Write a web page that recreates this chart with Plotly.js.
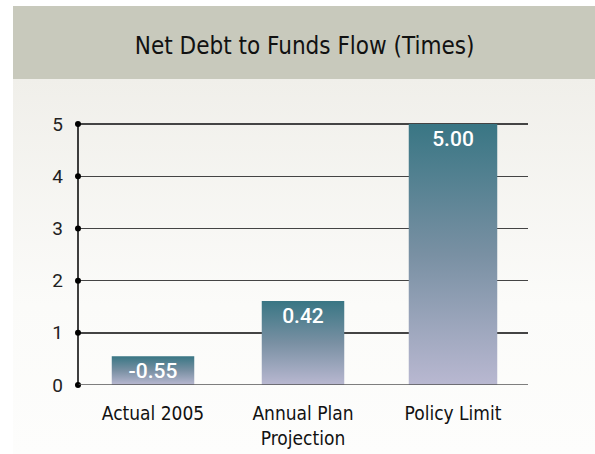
<!DOCTYPE html>
<html>
<head>
<meta charset="utf-8">
<script src="https://cdn.plot.ly/plotly-3.0.1.min.js"></script>
<style>
  html, body { margin: 0; padding: 0; background: #ffffff; }
  #chart {
    width: 595px; height: 454px;
    background:
      linear-gradient(to bottom, #c8c9bc, #c8c9bc) no-repeat 13px 6px / 582px 73px,
      linear-gradient(to bottom, #f0efea, #fbfbf9 60%, #fdfdfc) no-repeat 13px 79px / 582px 375px,
      #ffffff;
  }
</style>
</head>
<body>
<div id="chart"></div>
<script>
// ---- data ----
const categories = ['Actual 2005', 'Annual Plan<br>Projection', 'Policy Limit'];
const barHeights = [0.55, 1.61, 5.00];
const barLabels = ['-0.55', '0.42', '5.00'];
const yTicks = [0, 1, 2, 3, 4, 5];
const titleText = 'Net Debt to Funds Flow (Times)';

const bars = {
  type: 'bar',
  x: categories,
  y: barHeights,
  text: barLabels,
  textposition: 'inside',
  insidetextanchor: 'end',
  constraintext: 'none',
  textangle: 0,
  textfont: { family: 'Roboto, Liberation Sans, sans-serif', size: 21, color: '#ffffff', weight: 500 },
  marker: { color: '#7890a2', line: { width: 0 } },
  width: [0.55, 0.55, 0.59],
  hoverinfo: 'none',
  xaxis: 'x', yaxis: 'y'
};

const dots = {
  type: 'scatter',
  mode: 'markers',
  x: yTicks.map(() => 0),
  y: yTicks,
  marker: { color: '#000000', size: 6 },
  cliponaxis: false,
  hoverinfo: 'none',
  xaxis: 'x2', yaxis: 'y'
};

const condensed = 'DejaVu Sans Condensed, Liberation Sans Narrow, sans-serif';

const layout = {
  width: 595, height: 454,
  margin: { l: 78, r: 67, t: 122, b: 69 },
  paper_bgcolor: 'rgba(0,0,0,0)',
  plot_bgcolor: 'rgba(0,0,0,0)',
  showlegend: false,
  title: {
    text: titleText,
    font: { family: condensed, size: 24, color: '#111111' },
    xref: 'container', yref: 'container',
    x: 0.512, xanchor: 'center',
    y: 1 - 46 / 454, yanchor: 'middle'
  },
  xaxis: {
    type: 'category',
    showgrid: false, zeroline: false, showline: false,
    ticks: '',
    ticklabelstandoff: 15,
    tickfont: { family: condensed, size: 19, color: '#111111' },
    fixedrange: true
  },
  xaxis2: {
    overlaying: 'x', range: [0, 1], visible: false, fixedrange: true
  },
  yaxis: {
    range: [0, 5.04],
    tickvals: yTicks,
    ticktext: yTicks.map(String),
    showgrid: true, gridcolor: '#444444', gridwidth: 1.4,
    zeroline: false,
    showline: false,
    ticks: '',
    ticklabelstandoff: 14,
    tickfont: { family: 'Roboto, Liberation Sans, sans-serif', size: 19, color: '#222222' },
    fixedrange: true
  },
  shapes: [
    { type: 'line', xref: 'paper', yref: 'y', x0: 0, x1: 1, y0: 0, y1: 0, line: { color: '#555555', width: 1.5 }, layer: 'above' },
    { type: 'line', xref: 'paper', yref: 'y', x0: 0, x1: 0, y0: 0, y1: 5, line: { color: '#000000', width: 1.5 }, layer: 'above' }
  ]
};

Plotly.newPlot('chart', [bars, dots], layout, { staticPlot: true, displayModeBar: false }).then(function (gd) {
  const svg = gd.querySelector('.main-svg');
  const ns = 'http://www.w3.org/2000/svg';
  let defs = svg.querySelector('defs');
  if (!defs) { defs = document.createElementNS(ns, 'defs'); svg.insertBefore(defs, svg.firstChild); }
  const grad = document.createElementNS(ns, 'linearGradient');
  grad.setAttribute('id', 'barGrad');
  grad.setAttribute('x1', '0'); grad.setAttribute('y1', '0');
  grad.setAttribute('x2', '0'); grad.setAttribute('y2', '1');
  [['0', '#397684'], ['0.5', '#7990a3'], ['1', '#b9b8d1']].forEach(function (s) {
    const st = document.createElementNS(ns, 'stop');
    st.setAttribute('offset', s[0]);
    st.setAttribute('stop-color', s[1]);
    grad.appendChild(st);
  });
  defs.appendChild(grad);
  gd.querySelectorAll('.bars .point path').forEach(function (p) {
    p.style.fill = 'url(#barGrad)';
  });
});
</script>
</body>
</html>
